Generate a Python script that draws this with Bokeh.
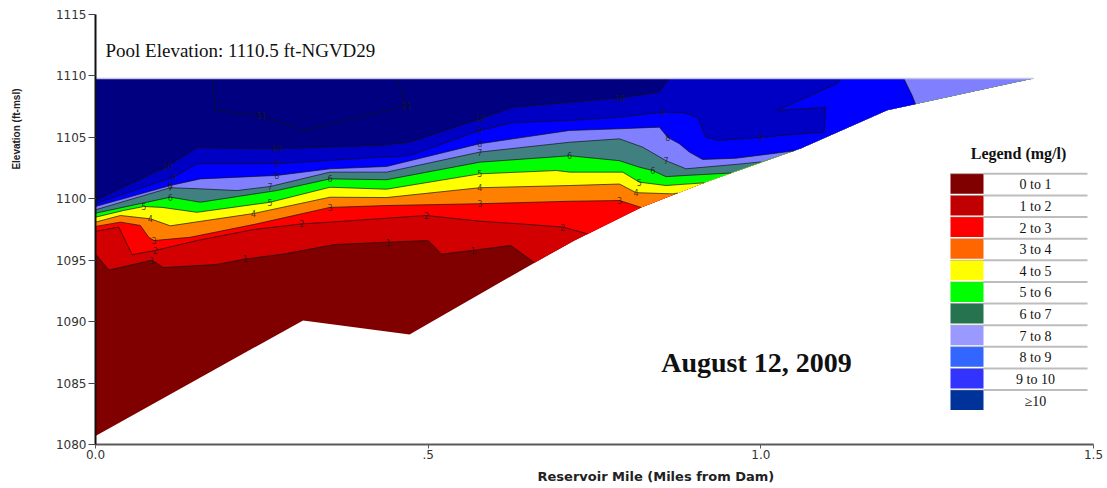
import numpy as np
from bokeh.plotting import figure
from bokeh.models import FixedTicker, CustomJSTickFormatter, Label, Range1d, Title
from bokeh.core.properties import value
from bokeh.embed import file_html
from bokeh.resources import INLINE

# ---------------- data ----------------
X_TICKS = [0.0, 0.5, 1.0, 1.5]
Y_TICKS = [1080, 1085, 1090, 1095, 1100, 1105, 1110, 1115]

SURFACE_ELEV = 1109.8
BOTTOM_MILE = [0.0, 0.312, 0.472, 0.66, 0.72, 0.82, 0.92, 1.06, 1.19, 1.41]
BOTTOM_ELEV = [1080.7, 1090.1, 1088.95, 1094.8, 1096.6, 1099.3, 1101.4, 1104.1, 1107.2, 1109.8]

C1_MILE = [0.0, 0.02, 0.085, 0.102, 0.182, 0.225, 0.2825, 0.36, 0.44, 0.5, 0.52, 0.567, 0.624, 0.66]
C1_ELEV = [1095.5, 1094.2, 1095.0, 1094.4, 1094.65, 1095.1, 1095.5, 1096.28, 1096.47, 1096.6, 1095.5, 1095.8, 1096.2, 1094.8]

C2_MILE = [0.0, 0.035, 0.055, 0.09, 0.1525, 0.2375, 0.31, 0.3525, 0.4375, 0.4975, 0.5775, 0.6375, 0.7025, 0.74]
C2_ELEV = [1097.35, 1097.7, 1095.45, 1095.8, 1096.6, 1097.5, 1097.96, 1098.1, 1098.42, 1098.64, 1098.18, 1097.96, 1097.7, 1097.14]

C3_MILE = [0.0, 0.0375, 0.0675, 0.08, 0.088, 0.1425, 0.2425, 0.3525, 0.4375, 0.5775, 0.7125, 0.7875, 0.82]
C3_ELEV = [1097.75, 1098.1, 1097.83, 1096.87, 1096.6, 1096.87, 1097.96, 1099.3, 1099.45, 1099.6, 1099.8, 1099.86, 1099.3]

C4_MILE = [0.0, 0.0375, 0.0825, 0.1125, 0.2375, 0.3525, 0.4375, 0.5775, 0.7125, 0.7875, 0.8125, 0.8675, 0.875]
C4_ELEV = [1098.1, 1098.64, 1098.37, 1097.8, 1098.8, 1100.13, 1100.1, 1100.9, 1101.08, 1101.2, 1100.5, 1100.4, 1100.46]

C5_MILE = [0.0, 0.0425, 0.0725, 0.1, 0.1525, 0.2625, 0.3525, 0.4375, 0.5775, 0.6925, 0.7125, 0.7925, 0.8175, 0.8575, 0.915]
C5_ELEV = [1098.5, 1099.05, 1099.37, 1099.3, 1098.9, 1099.72, 1100.94, 1100.78, 1102.03, 1102.3, 1102.17, 1102.17, 1101.35, 1101.08, 1101.3]

C6_MILE = [0.0, 0.1125, 0.1425, 0.1575, 0.2725, 0.3525, 0.4375, 0.5775, 0.7125, 0.7875, 0.8175, 0.8375, 0.8575, 0.8875, 0.955]
C6_ELEV = [1098.83, 1100.13, 1099.86, 1099.72, 1100.67, 1101.62, 1101.55, 1102.98, 1103.5, 1103.1, 1102.57, 1102.3, 1101.8, 1101.9, 1102.1]

C7_MILE = [0.0, 0.1125, 0.1575, 0.2125, 0.2625, 0.3525, 0.4375, 0.5775, 0.7125, 0.7875, 0.8225, 0.8575, 0.8875, 0.9625, 1.0]
C7_ELEV = [1099.1, 1100.9, 1100.81, 1100.67, 1101.0, 1102.17, 1102.17, 1103.8, 1104.6, 1104.88, 1104.2, 1103.1, 1102.44, 1102.8, 1103.0]

C8A_MILE = [0.0, 0.1125, 0.1575, 0.2725, 0.3525, 0.4375, 0.5775, 0.7125, 0.7875, 0.8475, 0.86, 0.8775, 0.8925, 0.9125, 0.9625, 1.05]
C8A_ELEV = [1099.37, 1101.08, 1101.62, 1101.9, 1102.44, 1102.63, 1104.48, 1105.56, 1105.7, 1105.83, 1105.0, 1104.48, 1103.8, 1103.2, 1103.3, 1103.9]
C8B_MILE = [1.2325, 1.2275, 1.2175, 1.215]
C8B_ELEV = [1107.7, 1108.4, 1109.5, 1109.8]

C9_MILE = [0.0, 0.1175, 0.1525, 0.2725, 0.4125, 0.4725, 0.5775, 0.6275, 0.7125, 0.7875, 0.852, 0.885, 0.905, 0.917, 0.9375, 1.0, 1.0625, 1.095, 1.0975, 1.025, 1.116, 1.12]
C9_ELEV = [1099.6, 1101.76, 1102.85, 1102.85, 1103.33, 1103.5, 1105.56, 1106.2, 1106.37, 1106.64, 1107.05, 1107.0, 1106.6, 1105.0, 1104.74, 1105.0, 1105.3, 1105.4, 1107.45, 1107.2, 1109.4, 1109.8]

C10_MILE = [0.0, 0.1075, 0.1525, 0.2725, 0.4275, 0.4725, 0.5775, 0.6275, 0.7125, 0.7875, 0.847, 0.8625]
C10_ELEV = [1099.86, 1102.6, 1104.15, 1104.07, 1104.34, 1104.6, 1106.5, 1107.45, 1107.86, 1108.2, 1108.68, 1109.8]

C11_MILE = [0.176, 0.18, 0.25, 0.3125, 0.4675, 0.4525]
C11_ELEV = [1109.8, 1107.2, 1106.78, 1105.56, 1107.6, 1109.8]

BAND_COLORS = ["#800000", "#d20000", "#ff0000", "#ff8000", "#ffff00", "#00ff00",
               "#408080", "#8080ff", "#0000ff", "#0000c4", "#000080"]
LEGEND_LABELS = ["0 to 1", "1 to 2", "2 to 3", "3 to 4", "4 to 5", "5 to 6",
                 "6 to 7", "7 to 8", "8 to 9", "9 to 10", "\u226510"]
LEGEND_COLORS = ["#800000", "#c00000", "#ff0000", "#ff6600", "#ffff00", "#00ff00",
                 "#267350", "#9999ff", "#3366ff", "#3333ff", "#003399"]

# ---------------- layout ----------------
W, H = 1104, 488
ML, MT = 95, 14
MR, MB = W - 1093, H - 444
X0, X1, Y0, Y1 = 0.0, 1.5, 1080, 1115
FL, FT = ML, MT
FW, FH = W - ML - MR, H - MT - MB


def dx(px):
    return X0 + (px - FL) / FW * (X1 - X0)


def dy(py):
    return Y1 - (py - FT) / FH * (Y1 - Y0)


p = figure(width=W, height=H, x_range=Range1d(X0, X1), y_range=Range1d(Y0, Y1),
           output_backend="svg", toolbar_location=None,
           min_border_left=ML, min_border_right=MR, min_border_top=MT, min_border_bottom=MB)
p.outline_line_color = None
p.grid.visible = False
p.background_fill_color = "white"
p.border_fill_color = "white"

# water body
wx = BOTTOM_MILE + [X0]
wy = BOTTOM_ELEV + [SURFACE_ELEV]
p.patch(wx, wy, fill_color=BAND_COLORS[0], line_color=None)


def region_above(cx, cy, ends_on_bottom):
    xs, ys = list(cx), list(cy)
    if ends_on_bottom:
        for bx, by in zip(BOTTOM_MILE, BOTTOM_ELEV):
            if bx > cx[-1]:
                xs.append(bx)
                ys.append(by)
    xs.append(X0)
    ys.append(SURFACE_ELEV)
    return xs, ys


c8x = C8A_MILE + [b for b in BOTTOM_MILE if C8A_MILE[-1] < b < C8B_MILE[0]] + C8B_MILE
c8y = C8A_ELEV + [e for b, e in zip(BOTTOM_MILE, BOTTOM_ELEV) if C8A_MILE[-1] < b < C8B_MILE[0]] + C8B_ELEV

contours = [
    (C1_MILE, C1_ELEV, True), (C2_MILE, C2_ELEV, True), (C3_MILE, C3_ELEV, True),
    (C4_MILE, C4_ELEV, True), (C5_MILE, C5_ELEV, True), (C6_MILE, C6_ELEV, True),
    (C7_MILE, C7_ELEV, True), (c8x, c8y, False), (C9_MILE, C9_ELEV, False),
    (C10_MILE, C10_ELEV, False),
]
for k, (cx, cy, eb) in enumerate(contours, start=1):
    xs, ys = region_above(cx, cy, eb)
    p.patch(xs, ys, fill_color=BAND_COLORS[k], line_color=None)

# contour lines
line_sets = [(C1_MILE, C1_ELEV), (C2_MILE, C2_ELEV), (C3_MILE, C3_ELEV), (C4_MILE, C4_ELEV),
             (C5_MILE, C5_ELEV), (C6_MILE, C6_ELEV), (C7_MILE, C7_ELEV), (C8A_MILE, C8A_ELEV),
             (C8B_MILE, C8B_ELEV), (C9_MILE, C9_ELEV), (C10_MILE, C10_ELEV), (C11_MILE, C11_ELEV)]
for cx, cy in line_sets:
    p.line(cx, cy, line_color="#101010", line_width=0.8, line_alpha=0.85)

# contour labels at chosen vertices
LABEL_IDX = {1: (C1_MILE, C1_ELEV, [2, 5, 8, 11]), 2: (C2_MILE, C2_ELEV, [3, 6, 9, 12]),
             3: (C3_MILE, C3_ELEV, [4, 7, 9, 11]), 4: (C4_MILE, C4_ELEV, [2, 4, 7, 10]),
             5: (C5_MILE, C5_ELEV, [2, 5, 8, 12]), 6: (C6_MILE, C6_ELEV, [1, 5, 8, 11]),
             7: (C7_MILE, C7_ELEV, [1, 4, 7, 11]), 8: (C8A_MILE, C8A_ELEV, [1, 3, 6, 10]),
             9: (C9_MILE, C9_ELEV, [1, 3, 6, 10, 15]), 10: (C10_MILE, C10_ELEV, [1, 3, 6, 9]),
             11: (C11_MILE, C11_ELEV, [2, 4])}
lx, ly, lt = [], [], []
for lev, (cx, cy, idxs) in LABEL_IDX.items():
    for i in idxs:
        lx.append(cx[i]); ly.append(cy[i]); lt.append(str(lev))
p.text(lx, ly, text=lt, text_font=value("DejaVu Sans"), text_font_size="8px",
       text_color="#1a1a1a", text_align="center", text_baseline="middle", text_alpha=0.8)

# surface line
p.line([X0, BOTTOM_MILE[-1]], [SURFACE_ELEV, SURFACE_ELEV], line_color="#c4c4e4", line_width=1.5)

# axes
p.yaxis.ticker = FixedTicker(ticks=Y_TICKS)
p.xaxis.ticker = FixedTicker(ticks=X_TICKS)
p.xaxis.formatter = CustomJSTickFormatter(code="return tick == 0.5 ? '.5' : tick.toFixed(1);")
for ax in (p.xaxis, p.yaxis):
    ax.major_label_text_font = "DejaVu Sans"
    ax.major_label_text_font_size = "12px"
    ax.major_label_text_color = "#333333"
    ax.minor_tick_line_color = None
    ax.major_tick_in = 0
    ax.axis_line_width = 2
p.yaxis.axis_line_color = "#111111"
p.yaxis.major_tick_line_color = "#444444"
p.yaxis.major_tick_out = 7
p.yaxis.major_label_standoff = 2
p.xaxis.axis_line_color = "#5a5a5a"
p.xaxis.major_tick_line_color = "#5a5a5a"
p.xaxis.major_tick_out = 4
p.xaxis.major_label_standoff = 1

# axis titles (as side titles so they can sit off-centre like the reference)
p.add_layout(Title(text=" ", text_font_size="12px"), "left")
p.add_layout(Title(text="Elevation (ft-msl)", align="right", offset=74,
                   text_font="Liberation Sans", text_font_style="bold", text_font_size="10px",
                   text_color="#222222"), "left")
p.add_layout(Title(text="Reservoir Mile (Miles from Dam)", align="left", offset=442,
                   text_font="DejaVu Sans", text_font_style="bold", text_font_size="13px",
                   text_color="#222222"), "below")

# in-plot texts
p.add_layout(Label(x=dx(105), y=dy(50), text="Pool Elevation: 1110.5 ft-NGVD29",
                   text_font="Liberation Serif", text_font_size="19px", text_color="#111111",
                   text_align="left", text_baseline="middle"))
p.add_layout(Label(x=dx(756), y=dy(362), text="August 12, 2009",
                   text_font="Liberation Serif", text_font_style="bold", text_font_size="28px",
                   text_color="#111111", text_align="center", text_baseline="middle"))

# legend
p.add_layout(Label(x=dx(1018), y=dy(153), text="Legend (mg/l)",
                   text_font="Liberation Serif", text_font_style="bold", text_font_size="16px",
                   text_color="#111111", text_align="center", text_baseline="middle"))
ROW0, PITCH, SW_H = 173.3, 21.63, 20.0
tops = [ROW0 + i * PITCH for i in range(len(LEGEND_LABELS))]
p.quad(left=dx(950), right=dx(983), top=[dy(t) for t in tops], bottom=[dy(t + SW_H) for t in tops],
       fill_color=LEGEND_COLORS, line_color=None)
p.segment(x0=dx(983), x1=dx(1087), y0=[dy(t) for t in tops], y1=[dy(t) for t in tops],
          line_color="#bdbdbd", line_width=2)
p.segment(x0=dx(950), x1=dx(983), y0=[dy(t) for t in tops], y1=[dy(t) for t in tops],
          line_color="#8a8a8a", line_width=1, line_dash="1 1")
p.text(x=dx(1035), y=[dy(t + SW_H / 2 + 1) for t in tops], text=LEGEND_LABELS,
       text_font=value("Liberation Serif"), text_font_size="14px", text_color="#111111",
       text_align="center", text_baseline="middle")

open("out.html", "w").write(file_html(p, INLINE))
